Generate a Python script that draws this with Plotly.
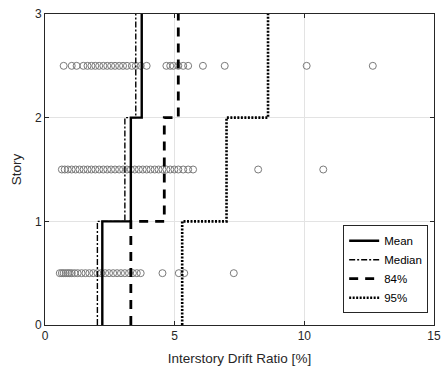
import plotly.graph_objects as go

# Interstory drift ratio [%] of each ground-motion record, per story
story1_idr = [0.57, 0.65, 0.72, 0.80, 0.88, 0.95, 1.03, 1.14, 1.26, 1.41, 1.56, 1.71,
              1.86, 2.02, 2.17, 2.32, 2.47, 2.63, 2.78, 2.93, 3.08, 3.24, 3.39, 3.54,
              3.69, 4.53, 5.16, 5.37, 7.28]
story2_idr = [0.65, 0.76, 0.88, 1.03, 1.18, 1.33, 1.49, 1.64, 1.79, 1.94, 2.09, 2.25,
              2.40, 2.55, 2.70, 2.86, 3.01, 3.16, 3.31, 3.46, 3.62, 3.77, 3.92, 4.07,
              4.23, 4.38, 4.53, 4.68, 4.83, 4.99, 5.14, 5.33, 5.52, 5.71, 8.22, 10.73]
story3_idr = [0.72, 1.03, 1.22, 1.48, 1.64, 1.79, 1.94, 2.09, 2.25, 2.40, 2.55, 2.70,
              2.86, 3.01, 3.16, 3.35, 3.50, 3.69, 3.92, 4.68, 4.83, 4.95, 5.14, 5.33,
              5.52, 6.09, 6.93, 10.09, 12.64]

# Summary statistics per story (story 1, 2, 3)
mean_idr = [2.21, 3.31, 3.73]
median_idr = [2.02, 3.08, 3.50]
p84_idr = [3.31, 4.60, 5.14]
p95_idr = [5.29, 7.00, 8.60]

story_levels = [0, 1, 2, 3]


def step_profile(values):
    xs, ys = [], []
    for i, v in enumerate(values):
        xs += [v, v]
        ys += [story_levels[i], story_levels[i + 1]]
    return xs, ys


fig = go.Figure()

for k, vals in enumerate([story1_idr, story2_idr, story3_idr]):
    fig.add_trace(go.Scatter(
        x=vals, y=[k + 0.5] * len(vals), mode="markers",
        marker=dict(symbol="circle-open", size=7, color="#7a7a7a",
                    line=dict(width=1, color="#7a7a7a")),
        showlegend=False, hoverinfo="skip"))

styles = [
    ("Mean", mean_idr, dict(color="black", width=2.4, dash="solid")),
    ("Median", median_idr, dict(color="black", width=1.4, dash="6px,2px,2px,2px")),
    ("84%", p84_idr, dict(color="black", width=2.8, dash="9px,7px")),
    ("95%", p95_idr, dict(color="black", width=2.6, dash="2px,1.5px")),
]
for name, vals, line in styles:
    xs, ys = step_profile(vals)
    fig.add_trace(go.Scatter(x=xs, y=ys, mode="lines", name=name, line=line))

axis_common = dict(
    showgrid=True, gridcolor="#e3e3e3", gridwidth=1,
    showline=True, linecolor="#262626", linewidth=1, mirror="ticks",
    ticks="inside", ticklen=4, tickcolor="#262626",
    zeroline=False, tickfont=dict(size=12, color="#262626"),
)

fig.update_layout(
    width=448, height=380,
    margin=dict(l=45, r=9, t=7, b=55),
    paper_bgcolor="white", plot_bgcolor="white",
    font=dict(family="Liberation Sans, Arial, sans-serif", color="#262626"),
    xaxis=dict(range=[0, 15], tickvals=[0, 5, 10, 15],
               title=dict(text="Interstory Drift Ratio [%]", font=dict(size=13.5), standoff=11),
               **axis_common),
    yaxis=dict(range=[0, 3], tickvals=[0, 1, 2, 3],
               title=dict(text="Story", font=dict(size=13.5), standoff=10),
               **axis_common),
    legend=dict(x=0.985, y=0.038, xanchor="right", yanchor="bottom",
                bgcolor="white", bordercolor="#262626", borderwidth=1,
                font=dict(size=11.5, color="black"), tracegroupgap=0,
                itemwidth=30),
    showlegend=True,
)

fig.write_html("out.html")
